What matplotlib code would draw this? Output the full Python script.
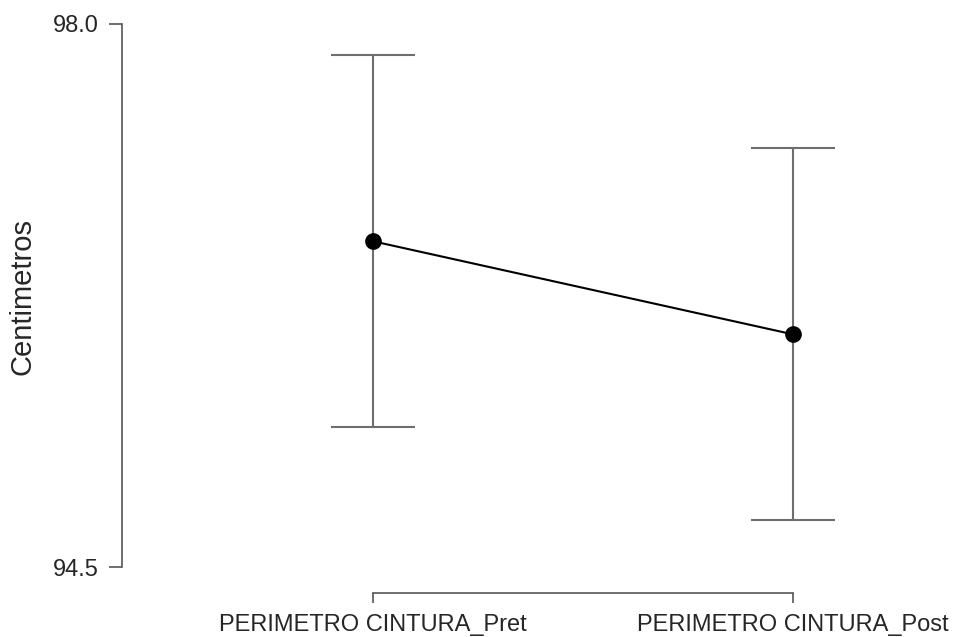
import matplotlib
matplotlib.use("Agg")
import matplotlib.pyplot as plt

# Descriptive plot: mean waist circumference with 95% CI, pre vs post
conditions = ["PERIMETRO CINTURA_Pret", "PERIMETRO CINTURA_Post"]
means = [96.60, 96.00]
ci_half = [1.20, 1.20]
y_ticks = [94.5, 98.0]
y_tick_labels = ["94.5", "98.0"]

plt.rcParams["font.family"] = ["Liberation Sans", "DejaVu Sans"]

W, H = 955, 637
fig = plt.figure(figsize=(W / 100, H / 100), dpi=100)
left_px, right_px, top_px, bottom_px = 122, 900, 24, 567
ax = fig.add_axes([left_px / W, (H - bottom_px) / H,
                   (right_px - left_px) / W, (bottom_px - top_px) / H])

xpos = list(range(len(conditions)))
ax.errorbar(xpos, means, yerr=ci_half, fmt="none", ecolor="#6e6e6e",
            elinewidth=1.5, capsize=30, capthick=1.5, clip_on=False, zorder=2)
ax.plot(xpos, means, color="black", lw=1.5, zorder=3, clip_on=False)
ax.plot(xpos, means, "o", color="black", ms=11, zorder=4, clip_on=False)

# x range so that the two conditions sit 420 px apart
px_per_unit = 420
x0 = 372.7
ax.set_xlim(-(x0 - left_px) / px_per_unit,
            (right_px - left_px - (x0 - left_px)) / px_per_unit)
ax.set_ylim(94.5, 98.0)

for s in ["top", "right"]:
    ax.spines[s].set_visible(False)
ax.spines["left"].set_bounds(94.5, 98.0)
ax.spines["bottom"].set_bounds(0, 1)
ax.spines["bottom"].set_position(("outward", 26 * 0.72))
for s in ["left", "bottom"]:
    ax.spines[s].set_color("#555555")
    ax.spines[s].set_linewidth(1.2)

ax.set_yticks(y_ticks)
ax.set_yticklabels(y_tick_labels)
ax.set_xticks(xpos)
ax.set_xticklabels(conditions)
ax.tick_params(axis="y", length=9.4, width=1.2, color="#555555",
               labelsize=17, labelcolor="#262626", pad=7)
ax.tick_params(axis="x", length=7.2, width=1.2, color="#555555",
               labelsize=17, labelcolor="#262626", pad=8)

fig.text(22 / W, 1 - 296.5 / H, "Centimetros", rotation=90,
         ha="center", va="center", fontsize=21, color="#262626")

fig.savefig("out.png", dpi=100)
